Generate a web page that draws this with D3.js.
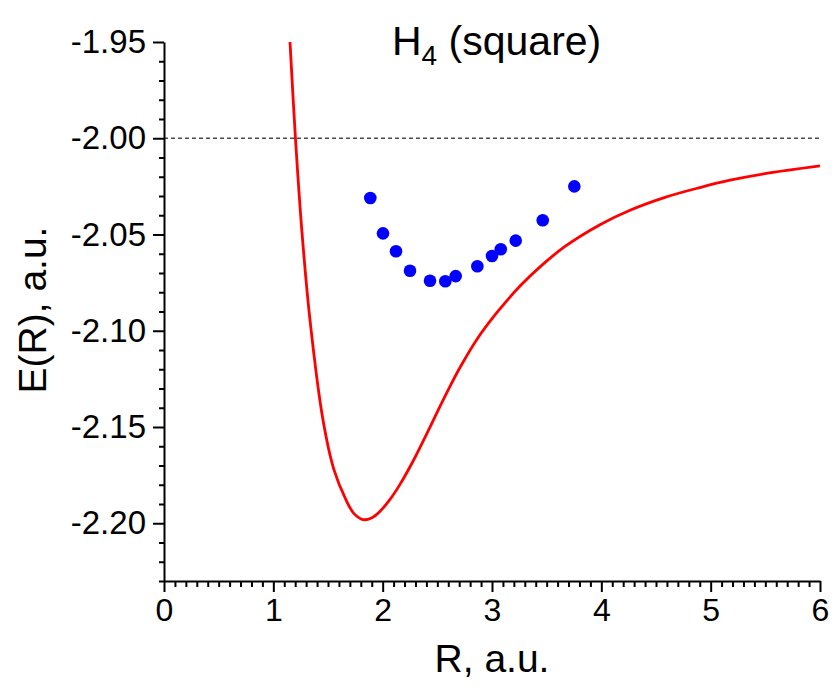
<!DOCTYPE html>
<html>
<head>
<meta charset="utf-8">
<script src="https://cdn.jsdelivr.net/npm/d3@7"></script>
<style>
  html, body { margin: 0; padding: 0; background: #fff; }
  svg { display: block; font-family: "Liberation Sans", Arial, sans-serif; }
</style>
</head>
<body>
<svg id="chart" width="834" height="687"></svg>
<script>
// ---- data ----
const curveR = [1.1524, 1.2027, 1.2604, 1.3354, 1.4543, 1.5549, 1.6646, 1.7378, 1.8201, 1.9024, 1.9756, 2.0671, 2.1585, 2.2774, 2.4329, 2.5244, 2.6159, 2.7073, 2.8628, 3.0457, 3.2561, 3.4390, 3.6677, 3.9878, 4.2622, 4.5823, 4.9024, 5.1768, 5.4970, 6.0];
const curveE = [-1.9500, -2.0004, -2.0477, -2.0945, -2.1464, -2.1723, -2.1879, -2.1950, -2.1981, -2.1971, -2.1938, -2.1876, -2.1798, -2.1678, -2.1501, -2.1393, -2.1289, -2.1191, -2.1044, -2.0905, -2.0768, -2.0668, -2.0562, -2.0449, -2.0374, -2.0307, -2.0256, -2.0218, -2.0184, -2.0144];
const pointR = [1.887, 2.003, 2.122, 2.250, 2.433, 2.573, 2.668, 2.866, 3.000, 3.080, 3.217, 3.464, 3.753];
const pointE = [-2.031, -2.0494, -2.0587, -2.0688, -2.0740, -2.0743, -2.0716, -2.0665, -2.0612, -2.0577, -2.0532, -2.0426, -2.0250];
const xTicks = [0, 1, 2, 3, 4, 5, 6];
const yTicks = [-1.95, -2.00, -2.05, -2.10, -2.15, -2.20];
const referenceE = -2.00;
const titleMain = "H";
const titleSub = "4";
const titleRest = " (square)";
const xLabel = "R, a.u.";
const yLabel = "E(R), a.u.";

// ---- layout ----
const W = 834, H = 687;
const m = { left: 164, right: 14, top: 42, bottom: 106 };
const svg = d3.select("#chart");
const x = d3.scaleLinear().domain([0, 6]).range([m.left, W - m.right]);
const y = d3.scaleLinear().domain([-2.23, -1.95]).range([H - m.bottom, m.top]);

// minor ticks
const xMinor = d3.range(0, 60.5, 1).map(d => d / 10).filter(d => !xTicks.includes(d));
const yMinor = d3.range(-223, -194.5, 1).map(d => d / 100).filter(d => !yTicks.some(t => Math.abs(t - d) < 1e-9));

// reference dashed line
svg.append("line")
  .attr("x1", x(0)).attr("x2", x(6))
  .attr("y1", y(referenceE)).attr("y2", y(referenceE))
  .attr("stroke", "#4a4a4a").attr("stroke-width", 1.4)
  .attr("stroke-dasharray", "4,3");

// red curve
const line = d3.line()
  .x((d, i) => x(curveR[i]))
  .y((d, i) => y(curveE[i]))
  .curve(d3.curveCatmullRom.alpha(0.5));
svg.append("path")
  .datum(curveR)
  .attr("d", line)
  .attr("fill", "none")
  .attr("stroke", "#ff0000")
  .attr("stroke-width", 2.8);

// blue points
svg.append("g").selectAll("circle")
  .data(pointR)
  .join("circle")
  .attr("cx", (d) => x(d))
  .attr("cy", (d, i) => y(pointE[i]))
  .attr("r", 6.3)
  .attr("fill", "#0000ff");

// axes
function styleAxis(g) {
  g.selectAll("path.domain").attr("stroke", "#000").attr("stroke-width", 2);
  g.selectAll(".tick line").attr("stroke", "#000").attr("stroke-width", 2);
}

// x minor
svg.append("g")
  .attr("transform", `translate(0,${y(-2.23)})`)
  .call(d3.axisBottom(x).tickValues(xMinor).tickSize(6).tickFormat(""))
  .call(g => g.select(".domain").remove())
  .call(styleAxis);
// x major
const gx = svg.append("g")
  .attr("transform", `translate(0,${y(-2.23)})`)
  .call(d3.axisBottom(x).tickValues(xTicks).tickSize(11).tickSizeOuter(0).tickPadding(6).tickFormat(d3.format("d")))
  .call(styleAxis);
gx.selectAll("text").attr("font-size", 32).attr("fill", "#000").attr("font-family", "Liberation Sans, Arial, sans-serif");

// y minor
svg.append("g")
  .attr("transform", `translate(${x(0)},0)`)
  .call(d3.axisLeft(y).tickValues(yMinor).tickSize(5).tickFormat(""))
  .call(g => g.select(".domain").remove())
  .call(styleAxis);
// y major
const gy = svg.append("g")
  .attr("transform", `translate(${x(0)},0)`)
  .call(d3.axisLeft(y).tickValues(yTicks).tickSize(11).tickSizeOuter(0).tickPadding(7).tickFormat(d3.format(".2f")))
  .call(styleAxis);
gy.selectAll("text").attr("font-size", 33).attr("fill", "#000").attr("font-family", "Liberation Sans, Arial, sans-serif")
  .text(d => d3.format(".2f")(d).replace("−", "-"));

// axis titles
svg.append("text")
  .attr("x", (x(0) + x(6)) / 2)
  .attr("y", 672)
  .attr("text-anchor", "middle")
  .attr("font-size", 39)
  .text(xLabel);

svg.append("text")
  .attr("transform", `translate(46,${310}) rotate(-90)`)
  .attr("text-anchor", "middle")
  .attr("font-size", 39)
  .text(yLabel);

// title
const t = svg.append("text")
  .attr("x", 392)
  .attr("y", 55)
  .attr("font-size", 41);
t.append("tspan").text(titleMain);
t.append("tspan").attr("font-size", 28).attr("dy", 10).text(titleSub);
t.append("tspan").attr("dy", -10).text(titleRest);
</script>
</body>
</html>
